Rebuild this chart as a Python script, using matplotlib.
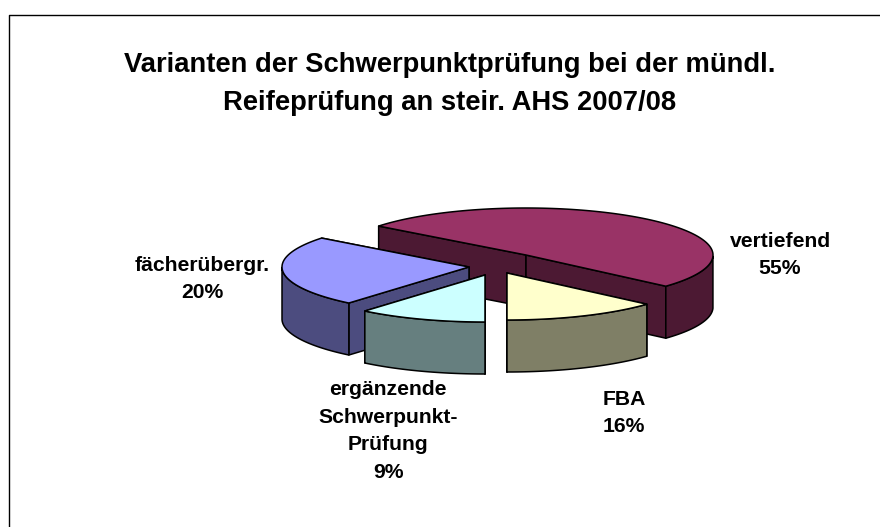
import numpy as np
import matplotlib
matplotlib.use("Agg")
import matplotlib.pyplot as plt
from matplotlib.patches import Polygon

# Daten
kategorien = ["FBA", "vertiefend", "fächerübergr.", "ergänzende\nSchwerpunkt-\nPrüfung"]
anteile = [16, 55, 20, 9]

# Farben
farben_oben = ["#FFFFCC", "#993366", "#9999FF", "#CCFFFF"]
farben_seite = ["#7F7F66", "#4C1933", "#4C4C7F", "#667F7F"]

# Aussehen des 3D-Kuchens (Pixel)
spitzen = [(507, 273), (526, 255), (469, 267), (485, 275)]
rx, ry = 187, 47
tiefe = 52
start_winkel = -90
label_pos = [(624, 413), (780, 255), (202, 279), (388, 431)]


def verzerrt(w):
    # Excel staucht den hinteren Teil des Kuchens zusammen
    r = np.radians(w)
    return w - 24.9 * (1 + np.sin(r)) - 4.4 * np.cos(r) - 6.7 * np.sin(2 * r)


def rand(spitze, w):
    r = np.radians(w)
    return np.column_stack([spitze[0] + rx * np.cos(r), spitze[1] - ry * np.sin(r)])


def runter(pts):
    return pts + np.array([0, tiefe])


def poly(ax, pts, farbe):
    ax.add_patch(Polygon(pts, closed=True, facecolor=farbe, edgecolor="black", lw=1.1, joinstyle="round"))


def stueck(ax, i, w0, w1):
    spitze = np.array([spitzen[i]], dtype=float)
    a = np.linspace(verzerrt(w0), verzerrt(w1), 120)
    bogen = rand(spitzen[i], a)

    # Schnittflächen, die hintere zuerst
    kanten = sorted([bogen[:1], bogen[-1:]], key=lambda p: p[0, 1])
    for k in kanten:
        oben = np.vstack([spitze, k])
        poly(ax, np.vstack([oben, runter(oben)[::-1]]), farben_seite[i])

    # Außenwand nur vorne sichtbar
    vorne = bogen[np.sin(np.radians(a)) <= 0]
    if len(vorne) > 1:
        poly(ax, np.vstack([vorne, runter(vorne)[::-1]]), farben_seite[i])

    poly(ax, np.vstack([spitze, bogen]), farben_oben[i])


fig = plt.figure(figsize=(8.8, 5.27), dpi=100)
ax = fig.add_axes([0, 0, 1, 1])
ax.set_xlim(0, 880)
ax.set_ylim(527, 0)
ax.axis("off")

# Rahmen (rechts und unten abgeschnitten)
ax.plot([8.5, 8.5, 880], [527, 14.5, 14.5], color="black", lw=1.0)

grenzen = start_winkel + np.cumsum([0] + anteile) * 3.6
for i in [1, 2, 0, 3]:
    stueck(ax, i, grenzen[i], grenzen[i + 1])

schrift = ["Liberation Sans", "DejaVu Sans"]
ax.text(450, 84, "Varianten der Schwerpunktprüfung bei der mündl.\nReifeprüfung an steir. AHS 2007/08",
        ha="center", va="center", ma="center", fontsize=19.75, fontweight="bold", family=schrift, linespacing=1.65)

for name, wert, pos in zip(kategorien, anteile, label_pos):
    ax.text(pos[0], pos[1], f"{name}\n{wert}%", ha="center", va="center", ma="center",
            fontsize=15.2, fontweight="bold", family=schrift, linespacing=1.57)

fig.savefig("out.png", dpi=100)
